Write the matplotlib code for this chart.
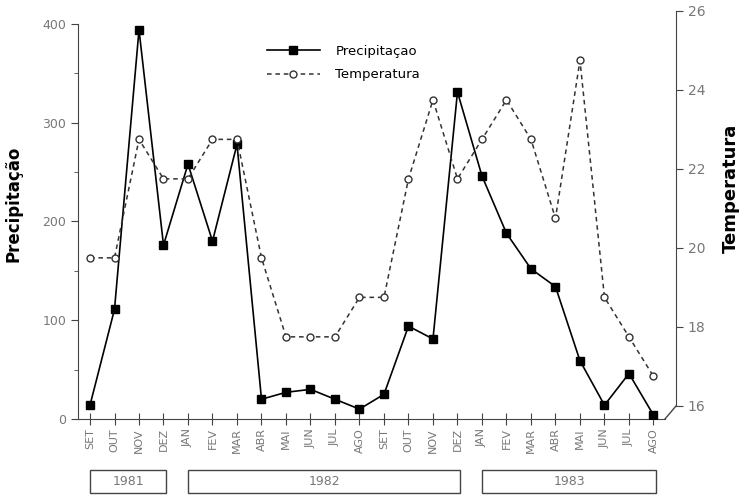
import matplotlib
matplotlib.use("Agg")
import matplotlib.pyplot as plt
from matplotlib.patches import Rectangle
import matplotlib.transforms as mtransforms

months = ["SET", "OUT", "NOV", "DEZ", "JAN", "FEV", "MAR", "ABR", "MAI", "JUN", "JUL", "AGO",
          "SET", "OUT", "NOV", "DEZ", "JAN", "FEV", "MAR", "ABR", "MAI", "JUN", "JUL", "AGO"]
precipitacao = [14, 111, 394, 176, 258, 180, 278, 20, 27, 30, 20, 10,
                25, 94, 81, 331, 246, 188, 152, 134, 59, 14, 46, 4]
temperatura = [19.75, 19.75, 22.75, 21.75, 21.75, 22.75, 22.75, 19.75, 17.75, 17.75, 17.75, 18.75,
               18.75, 21.75, 23.75, 21.75, 22.75, 23.75, 22.75, 20.75, 24.75, 18.75, 17.75, 16.75]
years = ["1981", "1982", "1983"]
year_start = [0, 4, 16]
year_end = [3, 15, 23]

gray = "#777777"
x = list(range(len(months)))

fig = plt.figure(figsize=(7.43, 4.97), dpi=100)
ax = fig.add_axes([78/743, 1 - 419/497, (676-78)/743, (419-11)/497])
ax2 = ax.twinx()

ax.set_xlim(-0.49, 23.92)
ax.set_ylim(0, 413)
ax2.set_ylim(15.67, 26)

l1, = ax.plot(x, precipitacao, color="black", lw=1.2, marker="s", ms=6,
              mfc="black", mec="black", zorder=3)
l2, = ax2.plot(x, temperatura, color="#333333", lw=1.1, ls=(0, (3, 2.5)), marker="o", ms=5,
               mfc="white", mec="#333333", mew=1.0, zorder=3)

for a in (ax, ax2):
    a.spines["top"].set_visible(False)
ax.spines["right"].set_visible(False)
ax2.spines["left"].set_visible(False)
ax2.spines["bottom"].set_visible(False)
ax.spines["left"].set_bounds(0, 400)
ax.spines["bottom"].set_bounds(-0.49, 23.47)
ax2.spines["right"].set_bounds(16, 26)
for s in ("left", "bottom"):
    ax.spines[s].set_color("#444444")
ax2.spines["right"].set_color("#444444")

# diagonal connector from bottom spine end to right spine base
ax2.plot([23.47, 23.92], [15.67, 16], color="#444444", lw=1.0, clip_on=False,
         transform=mtransforms.blended_transform_factory(ax.transData, ax2.transData))

ax.set_yticks([0, 100, 200, 300, 400])
ax.set_yticks([50, 150, 250, 350], minor=True)
ax.tick_params(axis="y", which="both", direction="out", length=5, colors="#444444",
               labelcolor=gray, labelsize=9)
ax.tick_params(axis="y", which="minor", length=3)
ax.set_xticks(x)
ax.set_xticklabels(months, rotation=90, color=gray, fontsize=8)
ax.tick_params(axis="x", direction="inout", length=9, colors="#444444", labelcolor=gray, pad=2)

ax2.set_yticks([16, 18, 20, 22, 24, 26])
ax2.tick_params(axis="y", direction="out", length=5, colors="#444444",
                labelcolor=gray, labelsize=10)

ax.set_ylabel("Precipitação", fontsize=12, fontweight="bold")
ax.yaxis.set_label_coords((23 - 78) / 598, (419 - 204) / 408)
ax2.set_ylabel("Temperatura", fontsize=13, fontweight="bold")
ax2.yaxis.set_label_coords((722 - 78) / 598, (419 - 188) / 408)

# year boxes
trans = mtransforms.blended_transform_factory(ax.transData, fig.transFigure)
for yr, s, e in zip(years, year_start, year_end):
    x0 = s - 0.0
    x1 = e + 0.12
    rect = Rectangle((x0, 4/497), x1 - x0, 23/497, transform=trans, fill=False,
                     edgecolor="#444444", lw=1.0, clip_on=False)
    fig.add_artist(rect)
    fig.text((x0 + x1) / 2, 15.5/497, yr, transform=trans, ha="center", va="center",
             color=gray, fontsize=9)

leg = ax.legend([l1, l2], ["Precipitaçao", "Temperatura"], loc="upper left",
                bbox_to_anchor=((255-78)/598, 1 - (33-11)/408), frameon=False,
                fontsize=9.5, handlelength=4, labelspacing=0.8, handletextpad=1.2)

fig.savefig("out.png", dpi=100)
